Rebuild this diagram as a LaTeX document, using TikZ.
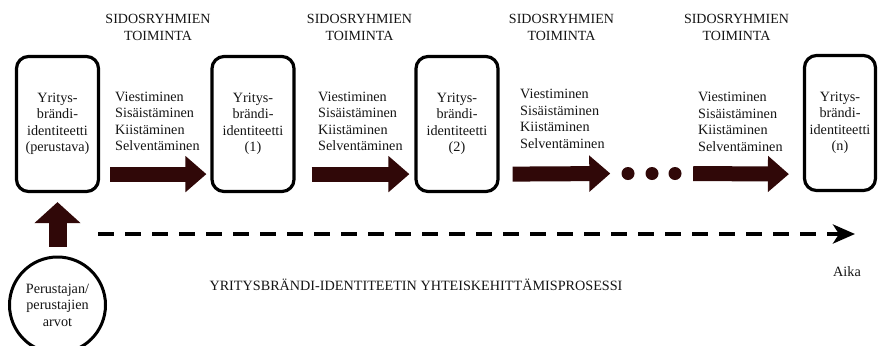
\documentclass[tikz,border=0pt]{standalone}
\usepackage{fontspec}
\setmainfont{Liberation Serif}
\usetikzlibrary{arrows.meta,calc}

\definecolor{arrowred}{RGB}{48,8,8}
\definecolor{inktext}{RGB}{20,20,20}

\begin{document}
\begin{tikzpicture}[x=1bp,y=-1bp,
  txt/.style={font=\fontsize{14.2bp}{16.5bp}\selectfont, text=inktext},
  brandbox/.style={draw, line width=3.2bp, rounded corners=12bp,
    minimum width=82bp, minimum height=135bp, inner sep=0pt, align=center, txt},
  founder/.style={draw, circle, line width=3bp, minimum size=96bp,
    inner sep=0pt, align=center, txt},
  actlist/.style={txt, anchor=west, align=left, inner sep=0pt},
  grouphead/.style={font=\fontsize{14bp}{17bp}\selectfont, text=inktext,
    align=center, inner sep=0pt},
  stepdot/.style={circle, fill=arrowred, minimum size=13bp, inner sep=0pt},
  blockarrow/.style={draw=arrowred, line width=15bp,
    -{Triangle[length=21bp, width=35bp, fill=arrowred]}},
  uparrow/.style={draw=arrowred, line width=18bp,
    -{Triangle[length=21bp, width=45bp, fill=arrowred]}},
  timeline/.style={draw=black, line width=4bp, dash pattern=on 16bp off 11bp,
    -{Stealth[length=22bp, width=19bp, inset=6bp]}}
]
\useasboundingbox (0,0) rectangle (878,345);

% identity stages
\node[brandbox] (b0) at (57.5,124) {Yritys-\\brändi-\\identiteetti\\(perustava)};
\node[brandbox] (b1) at (253,124) {Yritys-\\brändi-\\identiteetti\\(1)};
\node[brandbox] (b2) at (457,124) {Yritys-\\brändi-\\identiteetti\\(2)};
\node[brandbox, minimum width=71bp] (bn) at (840,123) {Yritys-\\brändi-\\identiteetti\\(n)};

% stakeholder headings
\node[grouphead] (h1) at (158,27.5) {SIDOSRYHMIEN\\TOIMINTA};
\node[grouphead] (h2) at (359.5,27.5) {SIDOSRYHMIEN\\TOIMINTA};
\node[grouphead] (h3) at (561.5,27.5) {SIDOSRYHMIEN\\TOIMINTA};
\node[grouphead] (h4) at (736.5,27.5) {SIDOSRYHMIEN\\TOIMINTA};

% stakeholder activities
\node[actlist] (a1) at (115,121.5) {Viestiminen\\Sisäistäminen\\Kiistäminen\\Selventäminen};
\node[actlist] (a2) at (318,121.5) {Viestiminen\\Sisäistäminen\\Kiistäminen\\Selventäminen};
\node[actlist] (a3) at (520,119) {Viestiminen\\Sisäistäminen\\Kiistäminen\\Selventäminen};
\node[actlist] (a4) at (698,122) {Viestiminen\\Sisäistäminen\\Kiistäminen\\Selventäminen};

% ellipsis dots
\node[stepdot] (d1) at (628,173.5) {};
\node[stepdot] (d2) at (652,173.5) {};
\node[stepdot] (d3) at (675,173.5) {};

% block arrows between stages
\draw[blockarrow] ($(b0.south east)+(10,-19)$) -- ($(b1.south west)+(-4,-19)$);
\draw[blockarrow] ($(b1.south east)+(16,-19)$) -- ($(b2.south west)+(-5,-19)$);
\draw[blockarrow] ($(b2.south east)+(13,-19)$) -- ($(d1.west)+(-11,0)$);
\draw[blockarrow] ($(d3.east)+(11.5,0)$) -- ($(bn.south west)+(-14,-18)$);

% founders' values
\node[founder] (c) at (57.5,305) {Perustajan/\\perustajien\\arvot};
\draw[uparrow] ($(c.north)+(0,-9)$) -- ($(b0.south)+(0,9)$);

% time axis
\coordinate (t0) at (98,234);
\coordinate (t1) at (855,234);
\draw[timeline] (t0) -- (t1);

\node[txt] (title) at (416,285) {YRITYSBRÄNDI-IDENTITEETIN YHTEISKEHITTÄMISPROSESSI};
\node[txt] (aika) at (847,272) {Aika};
\end{tikzpicture}
\end{document}
